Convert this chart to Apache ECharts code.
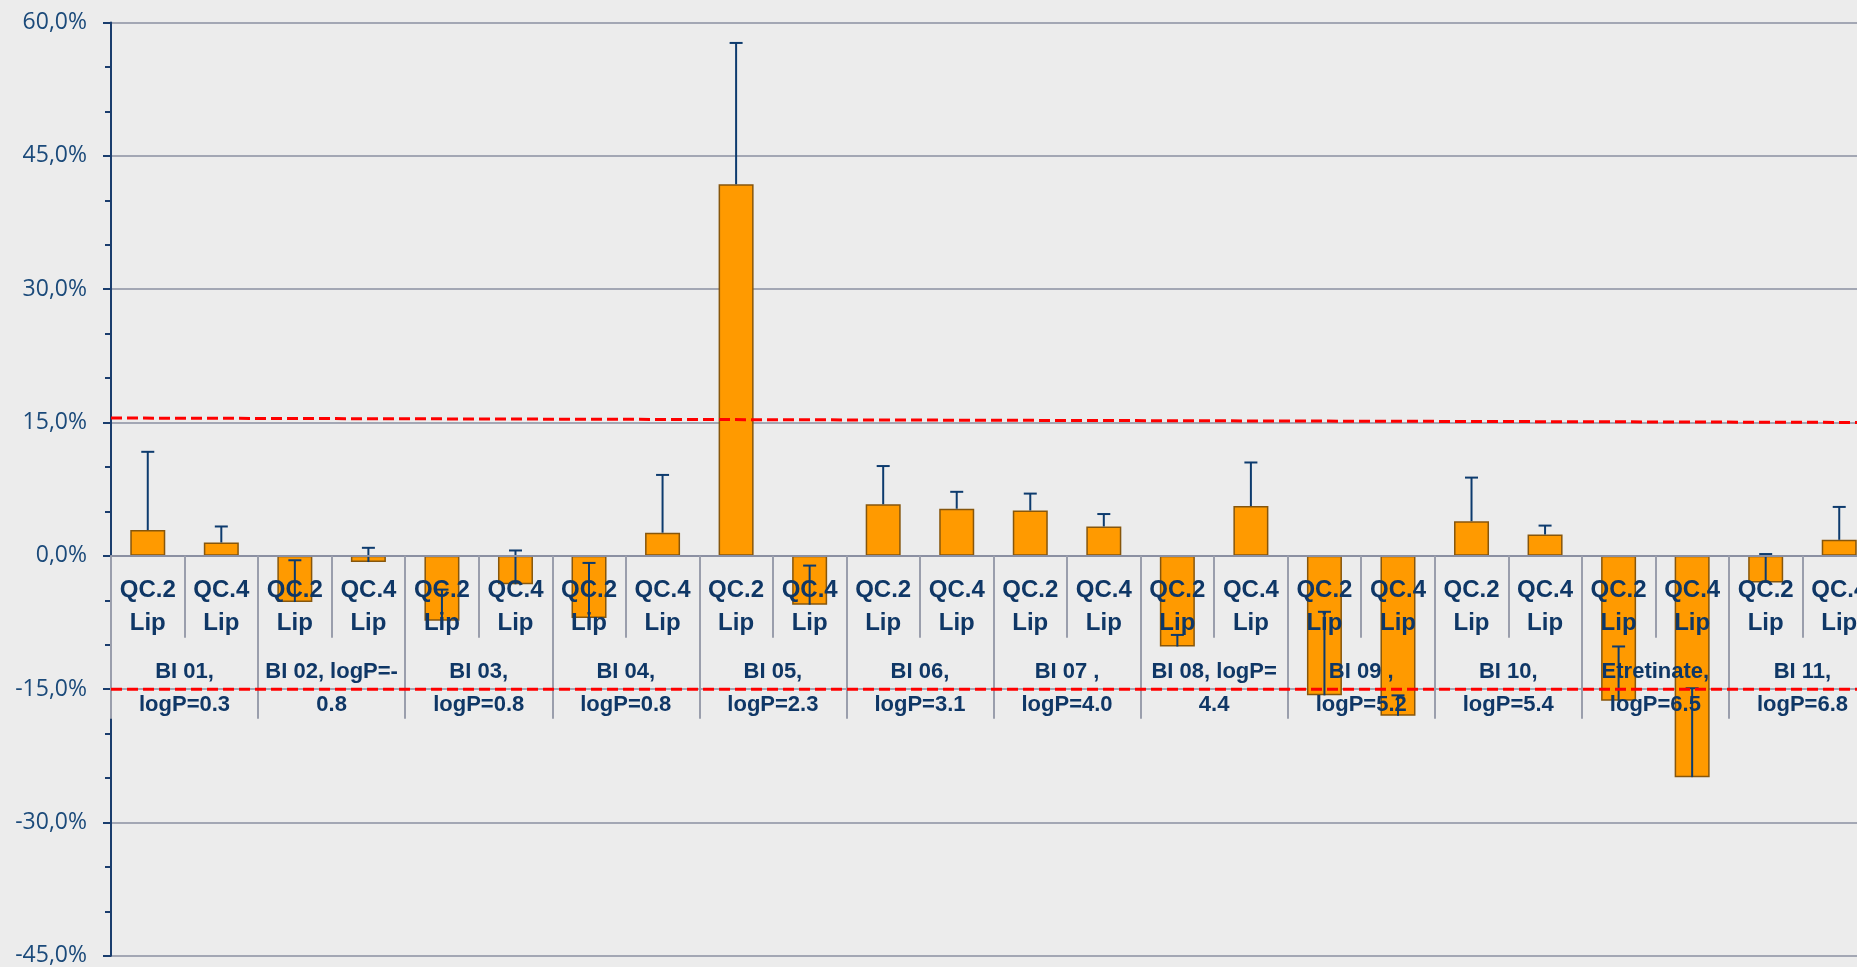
<!DOCTYPE html>
<html>
<head>
<meta charset="utf-8">
<script src="https://cdn.jsdelivr.net/npm/echarts@6/dist/echarts.min.js"></script>
<style>
  html, body { margin: 0; padding: 0; background: #ECECEC; }
  #chart { width: 1857px; height: 967px; }
</style>
</head>
<body>
<div id="chart"></div>
<script>
// Compound groups (outer axis) and formulation per bar (inner axis)
const groups = [
  'BI 01,\nlogP=0.3', 'BI 02, logP=-\n0.8', 'BI 03,\nlogP=0.8', 'BI 04,\nlogP=0.8',
  'BI 05,\nlogP=2.3', 'BI 06,\nlogP=3.1', 'BI 07 ,\nlogP=4.0', 'BI 08, logP=\n4.4',
  'BI 09 ,\nlogP=5.2', 'BI 10,\nlogP=5.4', 'Etretinate,\nlogP=6.5', 'BI 11,\nlogP=6.8'
];
const formulations = ['QC.2\nLip', 'QC.4\nLip'];

// Relative deviation (%) per bar, two bars per compound
const deviation = [
  2.9, 1.5,
  -5.2, -0.7,
  -7.3, -3.2,
  -7.0, 2.6,
  41.8, -5.5,
  5.8, 5.3,
  5.1, 3.3,
  -10.2, 5.6,
  -15.7, -18.0,
  3.9, 2.4,
  -16.3, -24.9,
  -3.0, 1.8
];
// Plus-direction error (%) per bar
const errorPlus = [
  8.8, 1.8,
  4.7, 1.6,
  3.5, 3.8,
  6.2, 6.5,
  15.9, 4.4,
  4.3, 1.9,
  1.9, 1.4,
  1.3, 4.9,
  9.4, 2.3,
  4.9, 1.0,
  6.1, 10.0,
  3.2, 3.7
];

// Acceptance limits, from left edge (0) to right edge (1) of the plot
const limitX = [0, 1];
const upperLimit = [15.5, 15.0];
const lowerLimit = [-15.0, -15.0];

// Value axis ticks
const yMin = -45, yMax = 60, yStep = 15;

const barCategories = [];
groups.forEach(() => formulations.forEach(f => barCategories.push(f)));

const errorData = deviation.map((v, i) => [i, v, v + errorPlus[i]]);

const gridTop = 22.5, gridHeight = 933.3;
// Category axes sit on the zero line of the value axis
const zeroOffset = -(0 - yMin) / (yMax - yMin) * gridHeight;

const catFont = '"Liberation Sans", Arial, sans-serif';
const navy = '#0f3766';
const gridGray = '#8b90a2';
const tickGray = '#9a9eac';

const chart = echarts.init(document.getElementById('chart'), null, { renderer: 'canvas' });

chart.setOption({
  backgroundColor: '#ECECEC',
  animation: false,
  grid: {
    left: 111, top: gridTop, width: 1765, height: gridHeight,
    containLabel: false, outerBoundsMode: 'none'
  },
  xAxis: [
    {
      type: 'category',
      data: barCategories,
      z: 4,
      offset: zeroOffset,
      axisLine: { onZero: false, lineStyle: { color: gridGray, width: 2 } },
      axisTick: { show: true, interval: 0, length: 82, lineStyle: { color: tickGray, width: 2 } },
      axisLabel: {
        interval: 0, margin: 18, color: navy,
        fontFamily: catFont, fontWeight: 'bold', fontSize: 24, lineHeight: 33
      },
      splitLine: { show: false }
    },
    {
      type: 'category',
      data: groups,
      position: 'bottom',
      z: 4,
      offset: zeroOffset,
      axisLine: { show: false, onZero: false },
      axisTick: { show: true, interval: 0, length: 163, lineStyle: { color: tickGray, width: 2 } },
      axisLabel: {
        interval: 0, margin: 100, color: navy,
        fontFamily: catFont, fontWeight: 'bold', fontSize: 22, lineHeight: 33
      },
      splitLine: { show: false }
    },
    { type: 'value', min: 0, max: 1, show: false }
  ],
  yAxis: {
    type: 'value',
    min: yMin, max: yMax, interval: yStep,
    axisLine: { show: true, onZero: false, lineStyle: { color: '#1a3d6d', width: 2 } },
    axisTick: { show: true, length: 8, lineStyle: { color: '#1a3d6d', width: 2 } },
    minorTick: { show: true, splitNumber: 3, length: 6, lineStyle: { color: '#1a3d6d', width: 2 } },
    axisLabel: {
      margin: 24, color: '#1b4a7a', fontFamily: '"Open Sans", "DejaVu Sans", sans-serif', fontSize: 23,
      formatter: v => v.toFixed(1).replace('.', ',') + '%'
    },
    splitLine: { show: true, lineStyle: { color: gridGray, width: 1.5 } }
  },
  series: [
    {
      type: 'bar',
      xAxisIndex: 0,
      data: deviation,
      barWidth: 35,
      z: 2,
      itemStyle: { color: '#FF9A00', borderColor: '#86560c', borderWidth: 1.5 }
    },
    {
      type: 'custom',
      xAxisIndex: 0,
      z: 3,
      data: errorData,
      encode: { x: 0, y: [1, 2] },
      renderItem: (params, api) => {
        const idx = api.value(0);
        const lo = api.coord([idx, api.value(1)]);
        const hi = api.coord([idx, api.value(2)]);
        const hw = 6.5;
        const style = { stroke: '#0d3b6e', lineWidth: 2 };
        return {
          type: 'group',
          children: [
            { type: 'line', shape: { x1: lo[0], y1: lo[1], x2: hi[0], y2: hi[1] }, style },
            { type: 'line', shape: { x1: hi[0] - hw, y1: hi[1], x2: hi[0] + hw, y2: hi[1] }, style }
          ]
        };
      }
    },
    {
      type: 'line',
      xAxisIndex: 2,
      z: 10,
      symbol: 'none',
      data: limitX.map((x, i) => [x, upperLimit[i]]),
      lineStyle: { color: '#FF0000', width: 3, type: [11, 5] }
    },
    {
      type: 'line',
      xAxisIndex: 2,
      z: 10,
      symbol: 'none',
      data: limitX.map((x, i) => [x, lowerLimit[i]]),
      lineStyle: { color: '#FF0000', width: 3, type: [11, 5] }
    }
  ]
});
</script>
</body>
</html>
